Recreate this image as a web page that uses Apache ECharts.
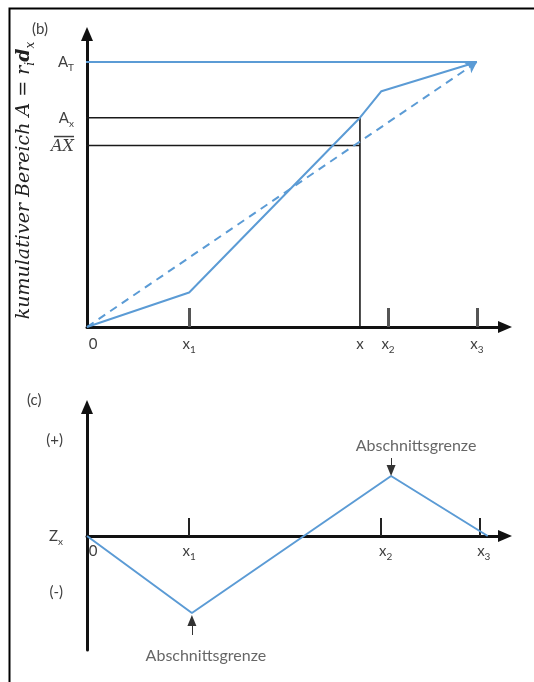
<!DOCTYPE html>
<html>
<head>
<meta charset="utf-8">
<script src="https://cdn.jsdelivr.net/npm/echarts@6/dist/echarts.min.js"></script>
<style>
  html, body { margin: 0; padding: 0; background: #fff; }
  #chart { width: 534px; height: 682px; }
</style>
</head>
<body>
<div id="chart"></div>
<script>
// ---- (b) cumulative area A along the reach ----
const topXTickValues = [2.62, 7.72, 10];
const topXLabels = ['0', 'x_1', 'x', 'x_2', 'x_3'];
const topXLabelValues = [0, 2.62, 7.0, 7.72, 10];
const topYLabels = ['A_T', 'A_x', '~AX'];   // '~' marks an overlined label
const topYLabelValues = [10, 7.9, 6.85];
const pointX = 7.0;
const areaTotal = 10;
const areaAtX = 7.9;
const areaUniformAtX = 6.85;
const cumulativeArea = [[0, 0], [2.62, 1.3], [7.0, 7.9], [7.55, 8.9], [10, 10]];
const uniformArea = [[0, 0], [10, 10]];

// ---- (c) Z_x, difference to the uniform line ----
const bottomXTickValues = [2.6, 7.48, 10];
const bottomXLabels = ['0', 'x_1', 'x_2', 'x_3'];
const bottomXLabelValues = [0, 2.6, 7.6, 10.1];
const bottomYLabels = ['(+)', 'Z_x', '(-)'];
const bottomYLabelValues = [9.6, 0, -5.6];
const zCurve = [[0, 0], [2.67, -7.7], [7.74, 6.0], [10.2, 0]];
const breakText = 'Abschnittsgrenze';

// horizontal guides start a little to the left of the y axis
const leadIn = -0.28;

const BLUE = '#5b9bd5';
const INK = '#1a1a1a';
const TEXT = '#404040';

function richText(s) {
  if (s.charAt(0) === '~') return '{bar|}\n{o|' + s.slice(1) + '}';
  if (s === '0') return '{z|0}';
  const p = s.split('_');
  return p.length > 1 ? '{m|' + p[0] + '}{s|' + p[1] + '}' : '{m|' + s + '}';
}
function labelFormatter(values, labels) {
  return function (v) {
    let best = 0;
    for (let i = 1; i < values.length; i++) {
      if (Math.abs(values[i] - v) < Math.abs(values[best] - v)) best = i;
    }
    return richText(labels[best]);
  };
}
const labelRich = {
  m: { fontFamily: 'Lato', fontSize: 15, color: TEXT, lineHeight: 22, verticalAlign: 'middle' },
  s: { fontFamily: 'Lato', fontSize: 10, color: TEXT, lineHeight: 22, verticalAlign: 'bottom' },
  z: { fontFamily: 'Lato', fontSize: 15, color: TEXT, lineHeight: 22, padding: [0, 0, 0, 12] },
  o: { fontFamily: 'DejaVu Serif', fontStyle: 'italic', fontSize: 16, color: TEXT, lineHeight: 18 },
  bar: { width: 20, height: 1.5, lineHeight: 3, backgroundColor: TEXT }
};

const arrowLine = (color, onZero) => ({
  show: true,
  onZero: onZero,
  symbol: ['none', 'triangle'],
  symbolSize: [12, 14],
  lineStyle: { color: color, width: 3 }
});

const breakPoints = [zCurve[2], zCurve[1]];

const option = {
  animation: false,
  backgroundColor: '#fff',
  grid: [
    { left: 87, right: 29, top: 34, bottom: 355, containLabel: false, outerBoundsMode: 'none' },
    { left: 87, right: 29, top: 407, bottom: 32, containLabel: false, outerBoundsMode: 'none' }
  ],
  xAxis: [
    {
      gridIndex: 0, type: 'value', min: 0, max: 10.72,
      axisLine: arrowLine('#111', true),
      splitLine: { show: false },
      axisTick: { show: true, inside: true, length: 19, customValues: topXTickValues,
        lineStyle: { color: '#555', width: 3 } },
      axisLabel: { show: true, customValues: topXLabelValues, margin: 6,
        formatter: labelFormatter(topXLabelValues, topXLabels), rich: labelRich }
    },
    {
      // the Z_x = 0 line sits 114 px above the bottom edge of the panel
      gridIndex: 1, type: 'value', min: 0, max: 10.64,
      offset: -114,
      axisLine: arrowLine('#111', false),
      splitLine: { show: false },
      axisTick: { show: true, inside: true, length: 18, customValues: bottomXTickValues,
        lineStyle: { color: '#222', width: 2 } },
      axisLabel: { show: true, customValues: bottomXLabelValues, margin: 4,
        formatter: labelFormatter(bottomXLabelValues, bottomXLabels), rich: labelRich }
    }
  ],
  yAxis: [
    {
      gridIndex: 0, type: 'value', min: 0, max: 11.06,
      axisLine: arrowLine('#111', true),
      splitLine: { show: false },
      axisTick: { show: false },
      axisLabel: { show: true, customValues: topYLabelValues, margin: 13,
        formatter: labelFormatter(topYLabelValues, topYLabels), rich: labelRich },
      name: '{t|kumulativer Bereich A = r}{s|i}{b|d}{s|x}',
      nameLocation: 'middle',
      nameRotate: 90,
      nameGap: 50,
      nameTextStyle: {
        rich: {
          t: { fontFamily: 'DejaVu Serif', fontStyle: 'italic', fontSize: 19, color: '#222', lineHeight: 26, verticalAlign: 'middle' },
          b: { fontFamily: 'DejaVu Serif', fontStyle: 'italic', fontWeight: 'bold', fontSize: 19, color: '#222', lineHeight: 26, verticalAlign: 'middle' },
          s: { fontFamily: 'DejaVu Serif', fontStyle: 'italic', fontSize: 12, color: '#222', lineHeight: 26, verticalAlign: 'bottom' }
        }
      }
    },
    {
      gridIndex: 1, type: 'value', min: -11.4, max: 12.9,
      axisLine: arrowLine('#111', true),
      splitLine: { show: false },
      axisTick: { show: false },
      axisLabel: { show: true, customValues: bottomYLabelValues, margin: 24,
        formatter: labelFormatter(bottomYLabelValues, bottomYLabels), rich: labelRich }
    }
  ],
  series: [
    {
      name: 'A_T', type: 'line', xAxisIndex: 0, yAxisIndex: 0, clip: false,
      data: [[leadIn, areaTotal], [uniformArea[1][0], areaTotal]],
      symbol: 'none', lineStyle: { color: BLUE, width: 2 }
    },
    {
      name: 'A_x', type: 'line', xAxisIndex: 0, yAxisIndex: 0, clip: false,
      data: [[leadIn, areaAtX], [pointX, areaAtX], [pointX, 0]],
      symbol: 'none', lineStyle: { color: INK, width: 1.6 }
    },
    {
      name: 'A_X uniform', type: 'line', xAxisIndex: 0, yAxisIndex: 0, clip: false,
      data: [[leadIn, areaUniformAtX], [pointX, areaUniformAtX]],
      symbol: 'none', lineStyle: { color: INK, width: 1.6 }
    },
    {
      name: 'kumuliert', type: 'line', xAxisIndex: 0, yAxisIndex: 0,
      data: cumulativeArea, symbol: 'none',
      lineStyle: { color: BLUE, width: 2 }
    },
    {
      name: 'gleichmaessig', type: 'line', xAxisIndex: 0, yAxisIndex: 0,
      data: [], symbol: 'none',
      markLine: {
        silent: true,
        symbol: ['none', 'arrow'],
        symbolSize: [9, 11],
        label: { show: false },
        lineStyle: { color: BLUE, width: 2, type: [8, 6] },
        data: [[{ coord: uniformArea[0] }, { coord: uniformArea[1] }]]
      }
    },
    {
      name: 'Z_x', type: 'line', xAxisIndex: 1, yAxisIndex: 1,
      data: zCurve, symbol: 'none',
      lineStyle: { color: BLUE, width: 2 },
      markLine: {
        silent: true,
        symbol: ['none', 'triangle'],
        symbolSize: [9, 11],
        label: { show: false },
        lineStyle: { color: '#333', width: 1, type: 'solid' },
        data: [
          [{ coord: [breakPoints[0][0], breakPoints[0][1] + 1.8] }, { coord: [breakPoints[0][0], breakPoints[0][1] + 0.55] }],
          [{ coord: [breakPoints[1][0], breakPoints[1][1] - 2.2] }, { coord: [breakPoints[1][0], breakPoints[1][1] - 0.75] }]
        ]
      }
    },
    {
      name: 'Abschnittsgrenzen', type: 'scatter', xAxisIndex: 1, yAxisIndex: 1, clip: false,
      symbolSize: 0,
      data: [
        { value: breakPoints[0], label: { position: 'top', distance: 22, offset: [25, 0] } },
        { value: breakPoints[1], label: { position: 'bottom', distance: 35, offset: [14, 0] } }
      ],
      label: { show: true, formatter: breakText, fontFamily: 'Lato', fontSize: 16, color: TEXT }
    }
  ],
  graphic: [
    { type: 'rect', silent: true, shape: { x: 9.5, y: 8.5, width: 700, height: 800 },
      style: { fill: 'none', stroke: '#000', lineWidth: 2 } },
    { type: 'text', left: 32, top: 22, style: { text: '(b)', fontFamily: 'Lato', fontSize: 15, fill: TEXT } },
    { type: 'text', left: 27, top: 393, style: { text: '(c)', fontFamily: 'Lato', fontSize: 15, fill: TEXT } }
  ]
};

const chart = echarts.init(document.getElementById('chart'), null, { renderer: 'canvas' });
chart.setOption(option);
</script>
</body>
</html>
